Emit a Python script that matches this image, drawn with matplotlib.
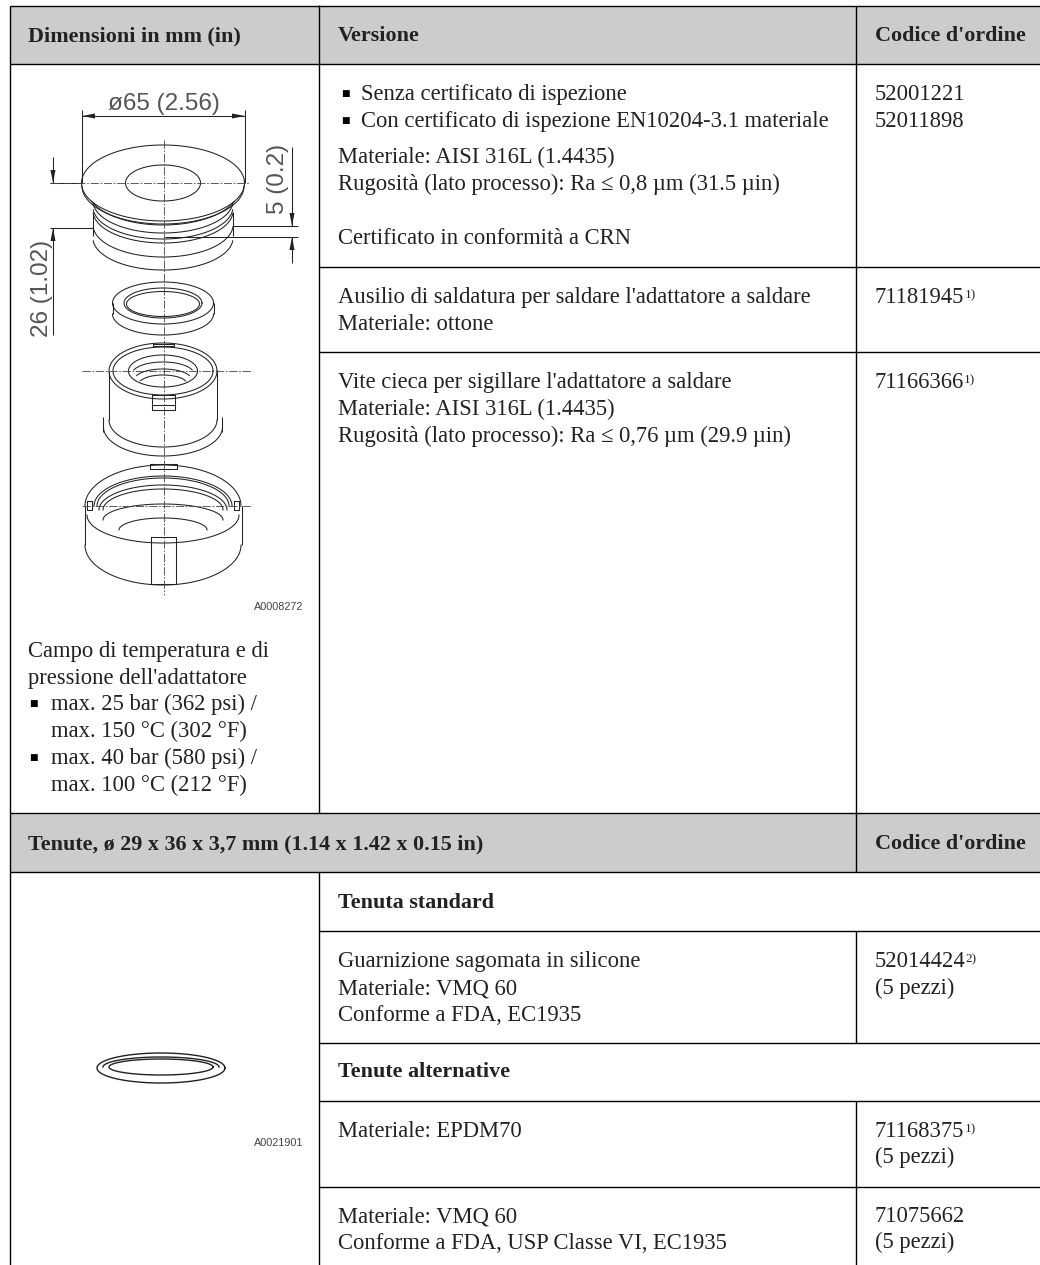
import numpy as np
import matplotlib
matplotlib.use('Agg')
import matplotlib.pyplot as plt

# testi della tabella
head_1 = ['Dimensioni in mm (in)', 'Versione', "Codice d'ordine"]
head_2 = ['Tenute, ø 29 x 36 x 3,7 mm (1.14 x 1.42 x 0.15 in)', "Codice d'ordine"]
bullets_v = ['Senza certificato di ispezione', 'Con certificato di ispezione EN10204-3.1 materiale']
mat_1 = ['Materiale: AISI 316L (1.4435)', 'Rugosità (lato processo): Ra ≤ 0,8 µm (31.5 µin)']
crn = 'Certificato in conformità a CRN'
ausilio = ["Ausilio di saldatura per saldare l'adattatore a saldare", 'Materiale: ottone']
vite = ["Vite cieca per sigillare l'adattatore a saldare", 'Materiale: AISI 316L (1.4435)',
        'Rugosità (lato processo): Ra ≤ 0,76 µm (29.9 µin)']
campo = ['Campo di temperatura e di', "pressione dell'adattatore"]
campo_b = [['max. 25 bar (362 psi) /', 'max. 150 °C (302 °F)'], ['max. 40 bar (580 psi) /', 'max. 100 °C (212 °F)']]
guarn = ['Guarnizione sagomata in silicone', 'Materiale: VMQ 60', 'Conforme a FDA, EC1935']
vmq = ['Materiale: VMQ 60', 'Conforme a FDA, USP Classe VI, EC1935']
codes_v = ['52001221', '52011898']
pezzi = '(5 pezzi)'

W, H = 1040, 1265
fig = plt.figure(figsize=(W/100, H/100), dpi=100)
ax = fig.add_axes([0, 0, 1, 1])
ax.set_xlim(0, W); ax.set_ylim(H, 0); ax.axis('off')

FS = 16.3
FS_B = 15.9
INK = '#222222'
SERIF = 'Liberation Serif'
SANS = 'Liberation Sans'
LW = 0.75

def txt(x, y, s, bold=False, fs=None):
    if fs is None:
        fs = FS_B if bold else FS
    return ax.text(x, y, s, fontsize=fs, family=SERIF, color=INK, va='baseline',
                   fontweight='bold' if bold else 'normal')

def lines(x, y, rows, step=27):
    for i, s in enumerate(rows):
        txt(x, y + i*step, s)

def bullet(x, y):
    ax.text(x, y - 4, '■', fontsize=6.5, family='DejaVu Sans', color='black', va='baseline')

def code(x, y, num, sup=None):
    t = txt(x, y, num)
    if sup:
        bb = t.get_window_extent(fig.canvas.get_renderer())
        txt(bb.x1, y - 5, sup, fs=9.5)

def hl(y, x0, x1=W):
    ax.plot([x0, x1], [y, y], color='black', lw=1.0, solid_capstyle='butt')

def vl(x, y0, y1):
    ax.plot([x, x], [y0, y1], color='black', lw=1.0, solid_capstyle='butt')

def seg(x0, y0, x1, y1, c='#222222'):
    ax.plot([x0, x1], [y0, y1], color=c, lw=LW, solid_capstyle='butt')

def ell(cx, cy, a, b, t0=0, t1=360, c='#222222', lw=LW):
    t = np.radians(np.linspace(t0, t1, 120))
    ax.plot(cx + a*np.cos(t), cy - b*np.sin(t), color=c, lw=lw)

def rect(x0, y0, x1, y1):
    ax.plot([x0, x1, x1, x0, x0], [y0, y0, y1, y1, y0], color='#222222', lw=LW)

def center(x0, y0, x1, y1):
    ax.plot([x0, x1], [y0, y1], color='#444444', lw=0.6, dashes=(10, 2, 2, 2))

def head(x, y, dx, dy):
    # punta di freccia: (x, y) e la punta, (dx, dy) la direzione
    L, w = 13, 2.5
    ax.fill([x, x - dx*L - dy*w, x - dx*L + dy*w], [y, y - dy*L - dx*w, y - dy*L + dx*w], color='#222222', lw=0)

# --- griglia ---
ax.fill_between([9.5, W], 6, 64, color='#cccccc', lw=0)
ax.fill_between([9.5, W], 813, 872, color='#cccccc', lw=0)
for y in [6, 64, 813, 872]:
    hl(y, 9.5)
vl(9.5, 6, H)
vl(319, 5, 813)
vl(319, 872, H)
vl(856, 6, 813)
vl(856, 813, 872)
vl(856, 931, 1043)
vl(856, 1101, H)
for y in [267, 352, 931, 1043, 1101, 1187]:
    hl(y, 319)

# --- testi ---
txt(28, 41, head_1[0], True); txt(338, 41, head_1[1], True); txt(875, 41, head_1[2], True)
txt(28, 849, head_2[0], True); txt(875, 849, head_2[1], True)
for i, s in enumerate(bullets_v):
    bullet(341, 100 + i*27)
    txt(361, 100 + i*27, s)
lines(338, 163, mat_1)
txt(338, 244, crn)
lines(875, 100, codes_v)
lines(338, 303, ausilio)
code(875, 303, '71181945', '1)')
lines(338, 388, vite)
code(875, 388, '71166366', '1)')
lines(28, 657, campo)
for i, rows in enumerate(campo_b):
    bullet(29, 710 + i*54)
    lines(51, 710 + i*54, rows)
txt(338, 908, 'Tenuta standard', True)
lines(338, 967, guarn)
code(875, 967, '52014424', '2)')
txt(875, 994, pezzi)
txt(338, 1077, 'Tenute alternative', True)
txt(338, 1137, 'Materiale: EPDM70')
code(875, 1137, '71168375', '1)')
txt(875, 1163, pezzi)
lines(338, 1222, vmq)
code(875, 1222, '71075662')
txt(875, 1248, pezzi)
ax.text(303, 610, 'A0008272', fontsize=7.8, family=SANS, color='#444444', ha='right', va='baseline')
ax.text(303, 1146, 'A0021901', fontsize=7.8, family=SANS, color='#444444', ha='right', va='baseline')

# --- quote ---
DIM = '#555555'
ax.text(164, 110, 'ø65 (2.56)', fontsize=17.5, family=SANS, color=DIM, ha='center', va='baseline')
ax.text(289, 179, '5 (0.2)', fontsize=17.5, family=SANS, color=DIM, rotation=90, ha='right', va='center')
ax.text(53, 288, '26 (1.02)', fontsize=17.5, family=SANS, color=DIM, rotation=90, ha='right', va='center')
seg(82, 110, 82, 183); seg(245, 110, 245, 183); seg(82, 116, 245, 116)
head(82, 116, -1, 0); head(245, 116, 1, 0)
seg(53, 157, 53, 183); head(53, 183, 0, 1)
seg(50, 183, 82, 183)
seg(50, 228, 93, 228); seg(53, 228, 53, 335); head(53, 228, 0, -1)
seg(292, 147, 292, 226); head(292, 226, 0, 1)
seg(232, 226, 298, 226); seg(165, 237, 298, 237)
seg(292, 237, 292, 263); head(292, 237, 0, -1)

# --- adattatore ---
ell(163, 183, 81.5, 38)
ell(163, 183, 37.5, 18)
ell(163, 186, 81, 38, 180, 360)
ell(163, 189, 76, 36, 200, 340)
for cy in [201, 207, 211, 225, 238]:
    ell(163, cy, 70, 32, 185, 355)
seg(93, 212, 93, 236); seg(233, 212, 233, 236)

# --- anello ---
ell(163, 303, 50.5, 21)
ell(163, 303, 39, 15)
ell(163, 304, 36.5, 12.5)
seg(112.5, 303, 112.5, 314); seg(213.5, 303, 213.5, 314)
ell(163, 314, 50.5, 21, 180, 360)

# --- ghiera interna ---
ell(163, 371, 54, 28)
ell(163, 371, 50, 24)
ell(163, 371, 34.5, 16)
ell(163, 374, 31, 12, 20, 160)
ell(163, 379, 28, 10, 20, 160)
ell(163, 384, 24, 9, 20, 160)
rect(153, 344, 174, 346)
seg(109, 371, 109, 420); seg(217, 371, 217, 420)
rect(152, 395, 175, 410); seg(152, 405, 175, 405)
seg(103, 417, 103, 432); seg(222, 417, 222, 432)
ell(163, 420, 54, 27, 180, 360)
ell(163, 427, 59.5, 29, 180, 360)

# --- ghiera esterna ---
ell(163, 506, 78, 41, 0, 180)
ell(163, 506, 69, 30, 0, 180)
ell(163, 506, 66, 28, 0, 180)
ell(163, 510, 64, 25, 0, 180)
ell(163, 510, 60, 21, 0, 180)
ell(163, 515, 76, 28, 180, 360)
ell(163, 520, 60, 16, 0, 180)
ell(163, 530, 44, 12, 0, 180)
seg(85, 506, 85, 545); seg(241.5, 506, 241.5, 545)
ell(163, 545, 78, 40, 180, 360)
rect(151, 537, 176, 584)
rect(150, 464, 177, 469)
rect(87, 501, 92, 510); rect(234, 501, 239, 510)

# --- assi ---
center(164, 140, 164, 595)
center(50, 183, 250, 183)
center(82, 371, 251, 371)
center(82, 506, 251, 506)

# --- tenuta ---
ell(161, 1068, 64, 15, lw=1.0)
ell(161, 1067, 58, 10, 0, 180, lw=1.0)
ell(161, 1067, 52, 8, lw=1.0)

fig.savefig('out.png', dpi=100)
